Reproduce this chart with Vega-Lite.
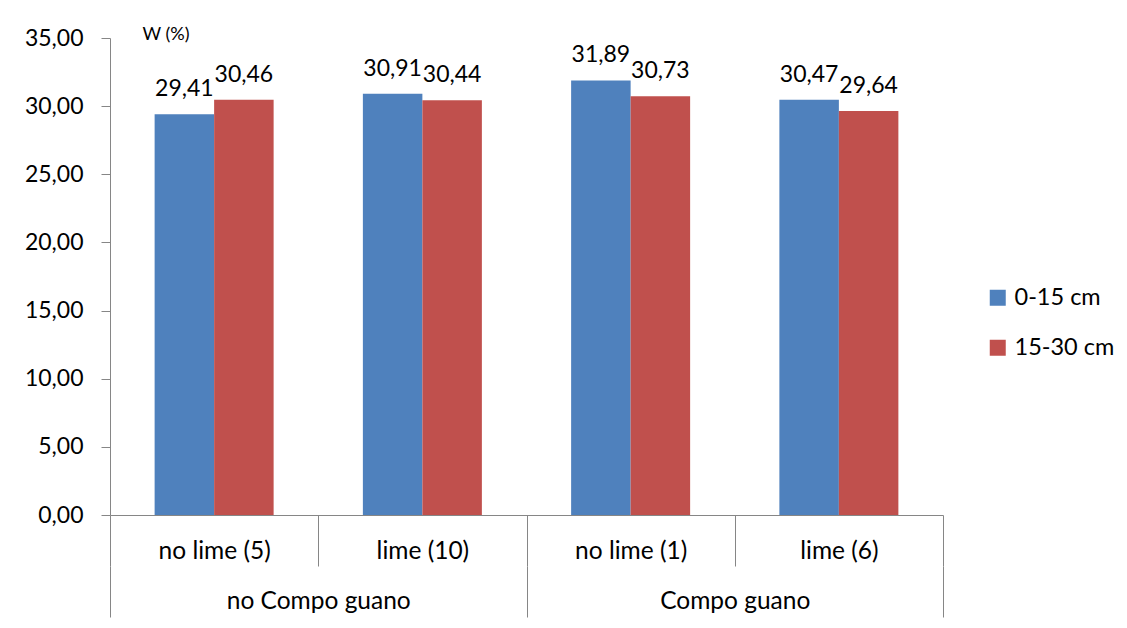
{
  "$schema": "https://vega.github.io/schema/vega-lite/v6.json",
  "width": 833,
  "height": 477,
  "autosize": {"type": "none"},
  "padding": {"left": 110, "top": 38, "right": 184, "bottom": 113},
  "background": "white",
  "config": {
    "locale": {"number": {"decimal": ",", "thousands": ".", "grouping": [3], "currency": ["", " €"]}},
    "font": "Lato",
    "view": {"stroke": null},
    "axis": {"labelFont": "Lato", "labelColor": "black", "domainColor": "#868686", "tickColor": "#868686", "grid": false, "domainWidth": 1, "tickWidth": 1, "labelLimit": 400}
  },
  "data": {
    "values": [
      {"group": "no Compo guano", "sub": "no lime (5)", "depth": "0-15 cm", "w": 29.41},
      {"group": "no Compo guano", "sub": "no lime (5)", "depth": "15-30 cm", "w": 30.46},
      {"group": "no Compo guano", "sub": "lime (10)", "depth": "0-15 cm", "w": 30.91},
      {"group": "no Compo guano", "sub": "lime (10)", "depth": "15-30 cm", "w": 30.44},
      {"group": "Compo guano", "sub": "no lime (1)", "depth": "0-15 cm", "w": 31.89},
      {"group": "Compo guano", "sub": "no lime (1)", "depth": "15-30 cm", "w": 30.73},
      {"group": "Compo guano", "sub": "lime (6)", "depth": "0-15 cm", "w": 30.47},
      {"group": "Compo guano", "sub": "lime (6)", "depth": "15-30 cm", "w": 29.64}
    ]
  },
  "layer": [
    {
      "encoding": {
        "x": {
          "field": "sub", "type": "nominal",
          "sort": ["no lime (5)", "lime (10)", "no lime (1)", "lime (6)"],
          "scale": {"paddingInner": 0, "paddingOuter": 0},
          "axis": {"title": null, "labelAngle": 0, "tickBand": "extent", "tickSize": 51, "labelPadding": -8, "labelBaseline": "alphabetic", "labelFontSize": 24.5, "labelLimit": 400}
        },
        "xOffset": {
          "field": "depth", "type": "nominal",
          "sort": ["0-15 cm", "15-30 cm"],
          "scale": {"paddingInner": 0, "paddingOuter": 0.75}
        },
        "y": {
          "field": "w", "type": "quantitative",
          "scale": {"domain": [0, 35], "nice": false},
          "axis": {
            "values": [0, 5, 10, 15, 20, 25, 30, 35], "format": ".2f",
            "tickSize": 9, "labelPadding": 18, "labelFontSize": 23,
            "title": "W (%)", "titleAngle": 0, "titleX": 32, "titleY": 1,
            "titleAlign": "left", "titleBaseline": "alphabetic", "titleFontSize": 18,
            "titleFontWeight": "normal", "titleFont": "Lato", "titleColor": "black"
          }
        }
      },
      "layer": [
        {
          "mark": {"type": "bar"},
          "encoding": {
            "color": {
              "field": "depth", "type": "nominal",
              "scale": {"domain": ["0-15 cm", "15-30 cm"], "range": ["#4F81BD", "#C0504D"]},
              "legend": {
                "title": null, "orient": "none", "legendX": 876, "legendY": 248,
                "symbolType": "square", "symbolSize": 256, "symbolStrokeWidth": 0,
                "labelFontSize": 23.5, "labelFont": "Lato", "labelColor": "black",
                "rowPadding": 25, "labelOffset": 5, "padding": 0, "labelLimit": 300
              }
            }
          }
        },
        {
          "mark": {"type": "text", "dy": -18, "baseline": "alphabetic", "fontSize": 23, "font": "Lato", "color": "black"},
          "encoding": {"text": {"field": "w", "type": "quantitative", "format": ".2f"}}
        }
      ]
    },
    {
      "mark": {"type": "point", "opacity": 0},
      "encoding": {
        "x": {
          "field": "group", "type": "nominal",
          "sort": ["no Compo guano", "Compo guano"],
          "scale": {"paddingInner": 0, "paddingOuter": 0},
          "axis": {"title": null, "orient": "bottom", "offset": 51, "domain": false, "tickBand": "extent", "tickSize": 51, "labelPadding": -8.5, "labelBaseline": "alphabetic", "labelAngle": 0, "labelFontSize": 24.5, "labelLimit": 400}
        }
      }
    }
  ],
  "resolve": {"scale": {"x": "independent"}}
}
